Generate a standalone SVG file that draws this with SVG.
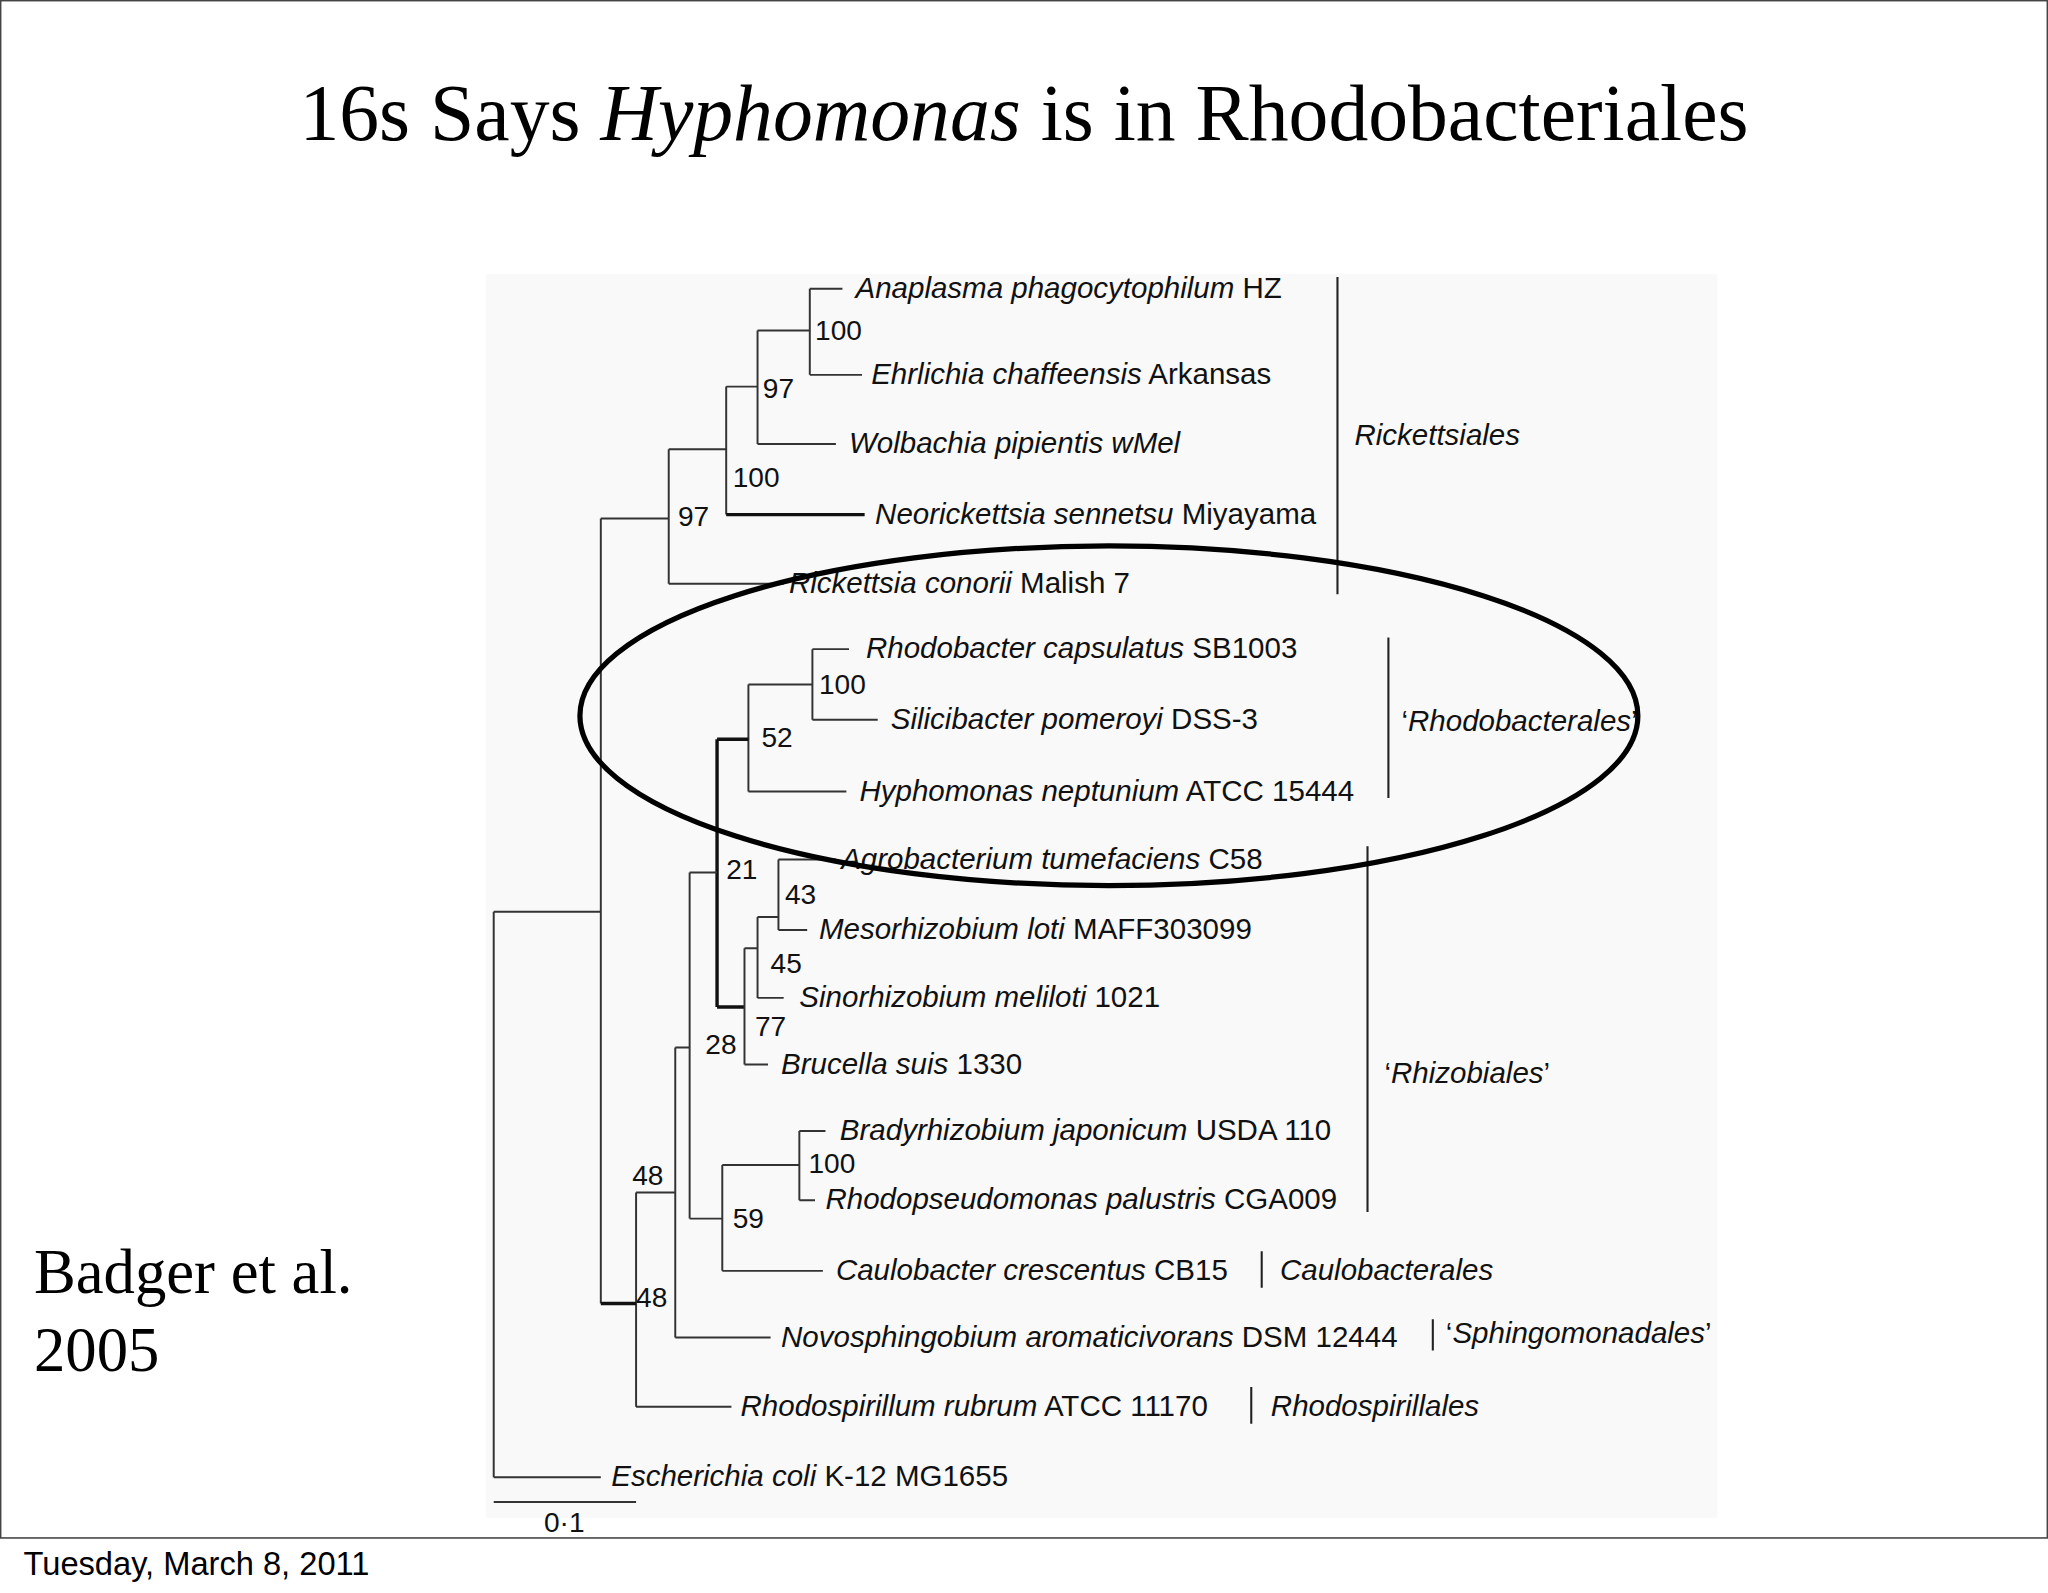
<svg xmlns="http://www.w3.org/2000/svg" width="2048" height="1593" viewBox="0 0 2048 1593">
<style>
.t{font-family:"Liberation Sans",Arial,sans-serif;font-size:22.6px;fill:#111}
.i{font-style:italic}
.b{font-family:"Liberation Sans",Arial,sans-serif;font-size:21.5px;fill:#111}
.br{stroke:#222;stroke-width:1.6;fill:none}
#edges path{stroke:#333;stroke-width:1.5;fill:none}
#edges path.k{stroke:#111;stroke-width:2.6}
</style>
<rect width="2048" height="1593" fill="#fff"/>
<g transform="scale(1.30612)">
<rect x="0.5" y="0.5" width="1567" height="1177" fill="none" stroke="#444" stroke-width="1.2"/>
<rect x="372" y="210" width="943" height="952" fill="#f9f9f9"/>
<text x="784" y="107" text-anchor="middle" font-family="Liberation Serif,serif" font-size="61" fill="#000">16s Says <tspan font-style="italic">Hyphomonas</tspan> is in Rhodobacteriales</text>
<text x="26" y="990" font-family="Liberation Serif,serif" font-size="48" fill="#000">Badger et al.</text>
<text x="26" y="1050" font-family="Liberation Serif,serif" font-size="48" fill="#000">2005</text>
<text x="18" y="1206" font-family="Liberation Sans,Arial,sans-serif" font-size="25" fill="#000">Tuesday, March 8, 2011</text>
<g id="edges">
<path d="M620 221H645M620 287H660M620 221V287M580 253H620M580 253V340M580 340H640M556 296H580M556 296V394"/>
<path class="k" d="M556 394H662"/>
<path d="M512 344H556M512 344V447M512 447H600M460 397H512M460 397V998"/>
<path d="M622 497H650M622 551H672M622 497V551M573 524H622M573 524V606M573 606H648"/>
<path class="k" d="M549 566H573M549 566V771M549 771H570"/>
<path d="M528 668H549M528 668V933M570 726V815M570 815H588M570 726H580M580 702V764M580 764H600M580 702H596M596 658V712M596 658H640M596 712H618"/>
<path d="M528 933H553M553 892V973M553 973H630M553 892H612M612 866V919M612 866H632M612 919H624"/>
<path d="M517 802H528M517 802V1024M517 1024H590M487 913H517M487 913V1077M487 1077H560"/>
<path class="k" d="M460 998H487"/>
<path d="M378 698H460M378 698V1131M378 1131H460M378 1150H487"/>
</g>
<g id="leaves">
<text class="t" x="655" y="228"><tspan class="i">Anaplasma phagocytophilum</tspan> HZ</text>
<text class="t" x="667" y="294"><tspan class="i">Ehrlichia chaffeensis</tspan> Arkansas</text>
<text class="t" x="650" y="347"><tspan class="i">Wolbachia pipientis wMel</tspan></text>
<text class="t" x="670" y="401"><tspan class="i">Neorickettsia sennetsu</tspan> Miyayama</text>
<text class="t" x="604" y="454"><tspan class="i">Rickettsia conorii</tspan> Malish 7</text>
<text class="t" x="663" y="504"><tspan class="i">Rhodobacter capsulatus</tspan> SB1003</text>
<text class="t" x="682" y="558"><tspan class="i">Silicibacter pomeroyi</tspan> DSS-3</text>
<text class="t" x="658" y="613"><tspan class="i">Hyphomonas neptunium</tspan> ATCC 15444</text>
<text class="t" x="644" y="665"><tspan class="i">Agrobacterium tumefaciens</tspan> C58</text>
<text class="t" x="627" y="719"><tspan class="i">Mesorhizobium loti</tspan> MAFF303099</text>
<text class="t" x="612" y="771"><tspan class="i">Sinorhizobium meliloti</tspan> 1021</text>
<text class="t" x="598" y="822"><tspan class="i">Brucella suis</tspan> 1330</text>
<text class="t" x="643" y="873"><tspan class="i">Bradyrhizobium japonicum</tspan> USDA 110</text>
<text class="t" x="632" y="926"><tspan class="i">Rhodopseudomonas palustris</tspan> CGA009</text>
<text class="t" x="640" y="980"><tspan class="i">Caulobacter crescentus</tspan> CB15</text>
<text class="t" x="598" y="1031"><tspan class="i">Novosphingobium aromaticivorans</tspan> DSM 12444</text>
<text class="t" x="567" y="1084"><tspan class="i">Rhodospirillum rubrum</tspan> ATCC 11170</text>
<text class="t" x="468" y="1138"><tspan class="i">Escherichia coli</tspan> K-12 MG1655</text>
</g>
<g id="support">
<text class="b" x="624" y="260">100</text>
<text class="b" x="584" y="305">97</text>
<text class="b" x="561" y="373">100</text>
<text class="b" x="519" y="403">97</text>
<text class="b" x="627" y="531">100</text>
<text class="b" x="583" y="572">52</text>
<text class="b" x="556" y="673">21</text>
<text class="b" x="601" y="692">43</text>
<text class="b" x="590" y="745">45</text>
<text class="b" x="578" y="793">77</text>
<text class="b" x="540" y="807">28</text>
<text class="b" x="619" y="898">100</text>
<text class="b" x="561" y="940">59</text>
<text class="b" x="484" y="907">48</text>
<text class="b" x="487" y="1001">48</text>
<text class="b" x="432" y="1173" text-anchor="middle">0·1</text>
</g>
<g id="clades">
<path class="br" d="M1024 212V455M1063 488V611M1047 648V928M966 958V986M1097 1010V1034M958 1062V1090"/>
<text class="t i" x="1037" y="341">Rickettsiales</text>
<text class="t" x="1073" y="560">‘<tspan class="i">Rhodobacterales</tspan>’</text>
<text class="t" x="1060" y="829">‘<tspan class="i">Rhizobiales</tspan>’</text>
<text class="t i" x="980" y="980">Caulobacterales</text>
<text class="t" x="1107" y="1028">‘<tspan class="i">Sphingomonadales</tspan>’</text>
<text class="t i" x="973" y="1084">Rhodospirillales</text>
</g>
<ellipse id="highlight" cx="849" cy="548" rx="405" ry="130" fill="none" stroke="#000" stroke-width="4"/>
</g>
</svg>
